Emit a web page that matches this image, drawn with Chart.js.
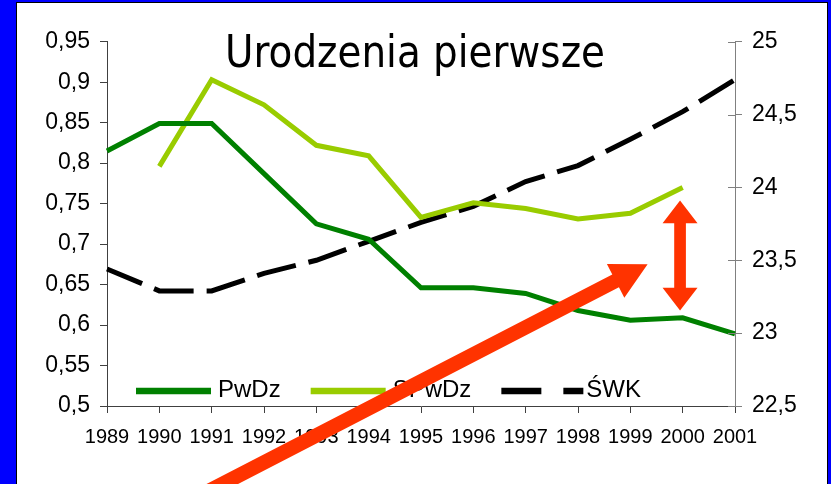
<!DOCTYPE html>
<html>
<head>
<meta charset="utf-8">
<script src="https://cdn.jsdelivr.net/npm/chart.js@4.4.1/dist/chart.umd.min.js"></script>
<style>
  html, body { margin: 0; padding: 0; }
  body { width: 831px; height: 484px; background: #0000FF; position: relative; overflow: hidden; }
  #frame { position: absolute; left: 16px; top: 2px; width: 810px; height: 482px; border: 1px solid #000; background: #fff; }
  #c { position: absolute; left: 0; top: 0; }
  #title { position: absolute; left: 208px; top: 26px; font-family: "Comic Sans MS", "DejaVu Sans", sans-serif; font-size: 45px; line-height: 1; white-space: nowrap; color: #000; transform-origin: 0 0; }
</style>
</head>
<body>
<div id="frame">
  <canvas id="c" width="810" height="481"></canvas>
  <div id="title">Urodzenia pierwsze</div>
</div>
<script>
// ---- data ----
const years = ['1989','1990','1991','1992','1993','1994','1995','1996','1997','1998','1999','2000','2001'];
const pwdz  = [0.815, 0.849, 0.849, 0.787, 0.725, 0.706, 0.646, 0.646, 0.639, 0.618, 0.606, 0.609, 0.589];
const spwdz = [null, 0.796, 0.903, 0.872, 0.822, 0.809, 0.733, 0.751, 0.744, 0.731, 0.738, 0.770, null];
const swk   = [23.44, 23.29, 23.29, 23.41, 23.50, 23.63, 23.76, 23.87, 24.04, 24.15, 24.33, 24.52, 24.74];
const seriesNames = ['PwDz', 'SPwDz', 'ŚWK'];
const leftTicks  = [0.5, 0.95, 0.05];
const rightTicks = [22.5, 25, 0.5];

// annotation arrows (category index, left-axis value)
const arrows = [
  { from: [1.842, 0.3916], to: [10.33, 0.675], shaft: 14.5, headLen: 36, headW: 38, both: false },
  { from: [10.95, 0.618], to: [10.95, 0.7537], shaft: 11.7, headLen: 22.6, headW: 35, both: true }
];

const fmt = v => String(Number(v.toFixed(2))).replace('.', ',');
const tickFont = 'Liberation Sans, Arial, sans-serif';

function arrowPoly(ctx, x1, y1, x2, y2, sw, hl, hw, both) {
  const dx = x2 - x1, dy = y2 - y1, L = Math.hypot(dx, dy);
  const ux = dx / L, uy = dy / L, px = -uy, py = ux;
  const P = (t, s) => [x1 + ux * t + px * s, y1 + uy * t + py * s];
  const pts = [];
  if (both) {
    pts.push(P(0, 0), P(hl, hw / 2), P(hl, sw / 2));
  } else {
    pts.push(P(0, sw / 2));
  }
  pts.push(P(L - hl, sw / 2), P(L - hl, hw / 2), P(L, 0), P(L - hl, -hw / 2), P(L - hl, -sw / 2));
  if (both) {
    pts.push(P(hl, -sw / 2), P(hl, -hw / 2));
  } else {
    pts.push(P(0, -sw / 2));
  }
  ctx.beginPath();
  pts.forEach((p, i) => i ? ctx.lineTo(p[0], p[1]) : ctx.moveTo(p[0], p[1]));
  ctx.closePath();
  ctx.fill();
}

const extras = {
  id: 'extras',
  afterDraw(chart) {
    const ctx = chart.ctx, ca = chart.chartArea;
    const x = chart.scales.x, y = chart.scales.y, y2 = chart.scales.y2;
    ctx.save();
    // inner ticks on right axis
    ctx.strokeStyle = '#808080'; ctx.lineWidth = 1;
    y2.ticks.forEach(t => {
      const py = Math.round(y2.getPixelForValue(t.value)) + 0.5;
      ctx.beginPath(); ctx.moveTo(ca.right - 7, py); ctx.lineTo(ca.right, py); ctx.stroke();
    });
    // legend
    const ly = ca.bottom - 16;
    let lx = ca.left + 29;
    ctx.font = '24px ' + tickFont;
    ctx.textBaseline = 'middle';
    ctx.fillStyle = '#000';
    chart.data.datasets.forEach((ds, i) => {
      const sampleW = i === 2 ? 82 : 75;
      ctx.strokeStyle = ds.borderColor; ctx.lineWidth = 6.5;
      ctx.setLineDash(i === 2 ? [40, 22] : []);
      ctx.beginPath(); ctx.moveTo(lx, ly + 1); ctx.lineTo(lx + sampleW, ly + 1); ctx.stroke();
      ctx.setLineDash([]);
      const tx = lx + sampleW + (i === 2 ? 3 : 7);
      ctx.fillText(ds.label, tx, ly);
      lx = tx + ctx.measureText(ds.label).width + 30;
    });
    // arrows
    ctx.fillStyle = '#FF3300';
    arrows.forEach(a => {
      const x1 = x.getPixelForValue(a.from[0]), y1 = y.getPixelForValue(a.from[1]);
      const xx2 = x.getPixelForValue(a.to[0]), yy2 = y.getPixelForValue(a.to[1]);
      arrowPoly(ctx, x1, y1, xx2, yy2, a.shaft, a.headLen, a.headW, a.both);
    });
    ctx.restore();
  }
};

new Chart(document.getElementById('c'), {
  type: 'line',
  data: {
    labels: years,
    datasets: [
      { label: seriesNames[0], data: pwdz, borderColor: '#008000', borderWidth: 5, pointRadius: 0, tension: 0, yAxisID: 'y' },
      { label: seriesNames[1], data: spwdz, borderColor: '#99CC00', borderWidth: 5, pointRadius: 0, tension: 0, yAxisID: 'y' },
      { label: seriesNames[2], data: swk, borderColor: '#000000', borderWidth: 5, borderDash: [40, 13], borderDashOffset: 2, borderCapStyle: 'butt', pointRadius: 0, tension: 0, yAxisID: 'y2' }
    ]
  },
  options: {
    responsive: false,
    animation: false,
    devicePixelRatio: 1,
    layout: { padding: { top: 38.7, left: 0, right: 0, bottom: 0 } },
    plugins: { legend: { display: false }, title: { display: false }, tooltip: { enabled: false } },
    scales: {
      x: {
        type: 'category',
        offset: false,
        grid: { display: true, drawOnChartArea: false, drawTicks: true, tickLength: 7, color: '#404040' },
        border: { display: true, color: '#404040', width: 1 },
        ticks: { color: '#000', font: { family: tickFont, size: 20 }, maxRotation: 0, minRotation: 0, autoSkip: false, padding: 12 },
        afterFit: s => { s.height = 78; }
      },
      y: {
        position: 'left',
        min: leftTicks[0], max: leftTicks[1],
        grid: { display: true, drawOnChartArea: false, drawTicks: true, tickLength: 7, color: '#404040' },
        border: { display: true, color: '#404040', width: 1 },
        ticks: { stepSize: leftTicks[2], color: '#000', font: { family: tickFont, size: 23 }, padding: 10, callback: v => fmt(v) },
        afterFit: s => { s.width = 90; }
      },
      y2: {
        position: 'right',
        min: rightTicks[0], max: rightTicks[1],
        grid: { display: true, drawOnChartArea: false, drawTicks: true, tickLength: 7, color: '#808080' },
        border: { display: true, color: '#808080', width: 1 },
        ticks: { stepSize: rightTicks[2], color: '#000', font: { family: tickFont, size: 23 }, padding: 10, callback: v => fmt(v) },
        afterFit: s => { s.width = 92; }
      }
    }
  },
  plugins: [extras]
});

// fit title width
const t = document.getElementById('title');
const w = t.getBoundingClientRect().width;
t.style.transform = 'scaleX(' + (380 / w) + ')';
</script>
</body>
</html>
